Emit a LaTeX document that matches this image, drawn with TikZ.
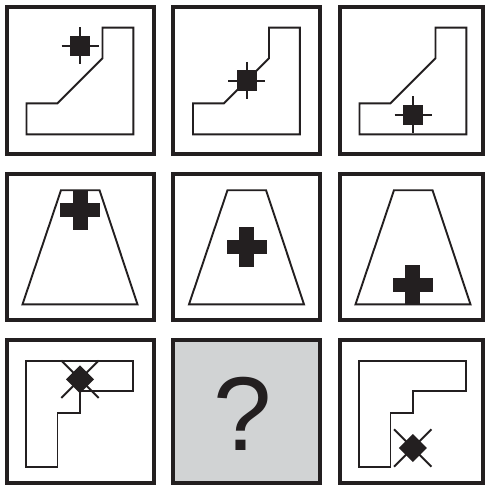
\documentclass[tikz,border=0pt]{standalone}
\usepackage{fontspec}
\setmainfont{Liberation Sans}
\definecolor{ink}{HTML}{231F20}
\definecolor{qgray}{HTML}{D1D3D4}
\begin{document}
\begin{tikzpicture}[x=1pt,y=-1pt,
  cellbox/.style={draw=ink,line width=3.8pt,line join=miter},
  fig/.style={draw=ink,line width=1.9pt,line join=miter},
  markline/.style={draw=ink,line width=2pt},
  sqmark/.pic={
    \fill[ink] (-10,-10) rectangle (10,10);
    \draw[markline] (-18.5,0) -- (18.5,0) (0,-18.5) -- (0,18.5);
  },
  plusmark/.pic={
    \fill[ink] (-20,-7.2) rectangle (20,7.2);
    \fill[ink] (-7.4,-20) rectangle (7.4,20);
  },
  dmark/.pic={
    \fill[ink] (0,-14) -- (14,0) -- (0,14) -- (-14,0) -- cycle;
    \draw[markline] (-18.7,-18.7) -- (18.7,18.7) (-18.7,18.7) -- (18.7,-18.7);
  },
  stairs/.pic={
    \draw[fig] (21.5,98.3) -- (52.5,98.3) -- (97.5,53.3) -- (97.5,22.7) -- (128.3,22.7) -- (128.3,129.3) -- (21.5,129.3) -- cycle;
  },
  trap/.pic={
    \draw[fig] (56,18.5) -- (94.5,18.5) -- (132.5,132.6) -- (17.5,132.6) -- cycle;
  },
  ell/.pic={
    \draw[fig] (21.3,22.7) -- (128,22.7) -- (128,52.6) -- (75,52.6) -- (75,74.4) -- (52.5,74.4) -- (52.5,128.4) -- (21.3,128.4) -- cycle;
  }
]
\useasboundingbox (0,0) rectangle (487,487);
\fill[white] (0,0) rectangle (487,487);

% cell frames
\draw[cellbox] (7,7) rectangle (153.7,154);
\draw[cellbox] (173,7) rectangle (320.3,154);
\draw[cellbox] (339.7,7) rectangle (483,154);
\draw[cellbox] (7,173.7) rectangle (153.7,320.3);
\draw[cellbox] (173,173.7) rectangle (320.3,320.3);
\draw[cellbox] (339.7,173.7) rectangle (483,320.3);
\draw[cellbox] (7,340) rectangle (153.7,483);
\filldraw[cellbox,fill=qgray] (173,340) rectangle (320.3,483);
\draw[cellbox] (339.7,340) rectangle (483,483);

% row 1
\begin{scope}[shift={(5,5)}]
  \pic {stairs}; \pic at (75,41) {sqmark};
\end{scope}
\begin{scope}[shift={(171.5,5)}]
  \pic {stairs}; \pic at (75,75.5) {sqmark};
\end{scope}
\begin{scope}[shift={(338,5)}]
  \pic {stairs}; \pic at (75,109.5) {sqmark};
\end{scope}

% row 2
\begin{scope}[shift={(5,171.7)}]
  \pic {trap}; \pic at (75.3,38.5) {plusmark};
\end{scope}
\begin{scope}[shift={(171.5,171.7)}]
  \pic {trap}; \pic at (75,75.3) {plusmark};
\end{scope}
\begin{scope}[shift={(338,171.7)}]
  \pic {trap}; \pic at (74.6,113) {plusmark};
\end{scope}

% row 3
\begin{scope}[shift={(5,338.3)}]
  \pic {ell}; \pic at (75,41) {dmark};
\end{scope}
\node[anchor=base,inner sep=0pt,text=ink,font=\fontsize{105}{105}\selectfont] (q) at (242.5,450) {?};
\begin{scope}[shift={(338,338.3)}]
  \pic {ell}; \pic at (74.8,109.7) {dmark};
\end{scope}
\end{tikzpicture}
\end{document}
